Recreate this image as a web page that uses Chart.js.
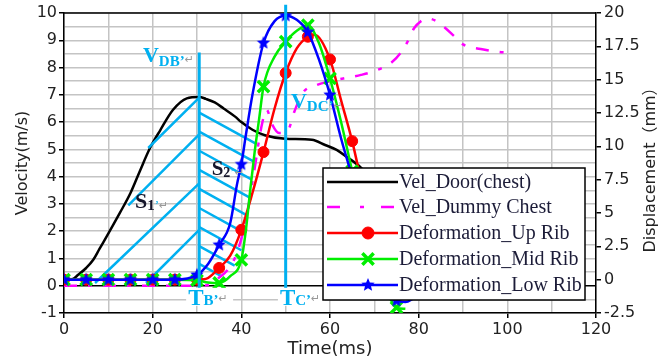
<!DOCTYPE html>
<html>
<head>
<meta charset="utf-8">
<script src="https://cdn.jsdelivr.net/npm/chart.js@4"></script>
<style>
html,body{margin:0;padding:0;background:#fff;}
#c{display:block;}
</style>
</head>
<body>
<canvas id="c" width="660" height="360"></canvas>
<script>
// ---------------- data ----------------
const xTickLabels = [0, 20, 40, 60, 80, 100, 120];
const yTickLabels = [-1, 0, 1, 2, 3, 4, 5, 6, 7, 8, 9, 10];
const y2TickLabels = [-2.5, 0, 2.5, 5, 7.5, 10, 12.5, 15, 17.5, 20];
const markerTimes = [0, 5, 10, 15, 20, 25, 30, 35, 40, 45, 50, 55, 60, 65, 70, 75];

const seriesNames = ['Vel_Door(chest)', 'Vel_Dummy Chest', 'Deformation_Up Rib', 'Deformation_Mid Rib', 'Deformation_Low Rib'];

// Vel_Door(chest)  (m/s)
const timeDoor = [0, 2, 3.2, 5, 6.6, 8, 9.6, 11, 12.6, 15, 17.1, 19.4, 21.7, 24.6, 27.7, 30.5, 32, 34, 36, 38.6, 40, 42.5, 45.3, 49.9, 55.9, 58.9, 61.5, 63.8, 66.8, 70];
const velDoor  = [0.22, 0.25, 0.4, 0.65, 0.95, 1.35, 1.8, 2.2, 2.67, 3.4, 4.2, 5.05, 5.7, 6.45, 6.87, 6.92, 6.85, 6.72, 6.5, 6.2, 6.0, 5.72, 5.52, 5.39, 5.35, 5.16, 4.98, 4.72, 4.36, 3.8];

// Vel_Dummy Chest  (m/s)
const timeDummy = [0, 10, 20, 30, 33, 35, 37, 39, 41, 43, 44.5, 45.7, 47, 48.5, 50.5, 52, 54, 57, 60, 63, 67, 70.5, 74, 76, 77.5, 79, 80.5, 82, 84, 86, 88, 90, 94, 98, 100];
const velDummy  = [0, 0, 0, 0, 0.05, 0.3, 0.6, 1.2, 2.4, 4.3, 5.8, 6.45, 5.9, 5.6, 5.7, 6.4, 7.1, 7.36, 7.5, 7.6, 7.73, 7.9, 8.2, 8.55, 8.95, 9.45, 9.7, 9.8, 9.7, 9.45, 9.15, 8.85, 8.68, 8.57, 8.55];

// Deformation_Up Rib  (mm)
const timeUp = [0, 5, 10, 15, 20, 25, 30, 32, 35, 37.5, 40, 42.5, 45, 47.5, 50, 52.5, 55, 56.5, 60, 62.5, 65, 67.5, 70, 72.5, 75];
const defUp  = [0, 0, 0, 0, 0, 0, 0, 0.06, 0.88, 1.8, 3.74, 6.5, 9.57, 12.84, 15.5, 17.34, 18.22, 18.36, 16.52, 13.45, 10.39, 6.7, 3.23, 0.57, -1.07];

// Deformation_Mid Rib  (mm)
const timeMid = [0, 5, 10, 15, 20, 25, 30, 32.5, 35, 37.5, 40, 41, 42, 43, 44, 45, 47.5, 50, 52.5, 55, 57.5, 60, 62.5, 65, 67.5, 70, 72.5, 75, 77];
const defMid  = [0, 0, 0, 0, 0, 0, -0.05, -0.21, -0.25, 0.26, 1.49, 3.64, 6.7, 9.57, 12.02, 14.48, 16.73, 17.85, 18.67, 19.08, 17.75, 15.09, 11.82, 8.14, 4.66, 1.59, -0.66, -2.09, -2.19];

// Deformation_Low Rib  (mm)
const timeLow = [0, 5, 10, 15, 20, 25, 30, 32.5, 35, 37.5, 39, 40, 41, 42.5, 45, 47.5, 50, 52.5, 55, 57.5, 60, 62.5, 65, 67.5, 70, 72.5, 75, 77, 79];
const defLow  = [0, 0, 0, 0, 0, 0, 0.36, 1.18, 2.61, 4.25, 7.11, 8.65, 10.8, 13.86, 17.75, 19.39, 19.8, 19.49, 18.57, 16.52, 13.86, 10.59, 7.73, 4.86, 2.0, -0.45, -1.58, -1.68, -1.38];

// cyan guide lines (time, velocity) : [t1, v1, t2, v2]
const guideVerticals = [[30.5, 8.55, 30.5, -0.1], [50, 10.3, 50, -0.1]];
const hatchS1 = [[19, 5.05, 30.5, 6.9], [14.5, 2.95, 30.5, 5.55], [7, 0.1, 30.5, 3.75], [18.5, 0.1, 30.5, 2.05]];
const hatchS2 = [[30.5, 6.35, 43.27, 5.21], [30.5, 5.65, 42.75, 4.56], [30.5, 4.95, 42.28, 3.9], [30.5, 4.25, 41.82, 3.24],
                 [30.5, 3.55, 41.38, 2.57], [30.5, 2.85, 40.9, 1.92], [30.5, 2.15, 40.0, 1.3], [30.5, 1.45, 38.5, 0.74], [30.5, 0.8, 35.5, 0.35]];

// ---------------- helpers ----------------
const pts = (xs, ys) => xs.map((x, i) => ({x: x, y: ys[i]}));
const segs = list => {
  const out = [];
  list.forEach(s => { out.push({x: s[0], y: s[1]}); out.push({x: s[2], y: s[3]}); out.push({x: s[2], y: null}); });
  return out;
};
function makeStar(color, R) {
  const c = document.createElement('canvas');
  const s = Math.ceil(R * 2 + 2);
  c.width = s; c.height = s;
  const g = c.getContext('2d');
  g.fillStyle = color; g.beginPath();
  for (let i = 0; i < 10; i++) {
    const r = i % 2 ? R * 0.45 : R;
    const a = -Math.PI / 2 + i * Math.PI / 5;
    g.lineTo(s / 2 + r * Math.cos(a), s / 2 + r * Math.sin(a));
  }
  g.closePath(); g.fill();
  return c;
}
const CYAN = '#00B0F0';
const RED = '#ff0000', GREEN = '#00ee00', BLUE = '#0000ff', MAG = '#ff00ff';
const starImg = makeStar(BLUE, 7);
const isMarker = c => c.type === 'data' && c.raw && markerTimes.includes(c.raw.x);

Chart.defaults.font.family = '"DejaVu Sans", sans-serif';
Chart.defaults.color = '#222';

// ---------------- overlay plugin: frame, labels, legend, right title ----------------
function runText(ctx, x, y, parts) {
  ctx.textAlign = 'left'; ctx.textBaseline = 'alphabetic';
  for (const p of parts) {
    ctx.font = p.f; ctx.fillStyle = p.c;
    ctx.fillText(p.t, x, y + (p.dy || 0));
    x += ctx.measureText(p.t).width + (p.gap || 0);
  }
}
const overlay = {
  id: 'overlay',
  beforeDatasetsDraw(chart) {
    const {ctx, chartArea: a} = chart;
    ctx.save();
    ctx.strokeStyle = '#000'; ctx.lineWidth = 1.5;
    ctx.beginPath(); ctx.moveTo(a.left, a.top); ctx.lineTo(a.right, a.top); ctx.stroke();
    ctx.restore();
  },
  afterDatasetsDraw(chart) {
    const {ctx} = chart;
    const sx = chart.scales.x, sy = chart.scales.y;
    const X = t => sx.getPixelForValue(t), Y = v => sy.getPixelForValue(v);
    const ser = 'bold 22px "Liberation Serif"', sub = 'bold 15px "Liberation Serif"';
    const arr = '11px "DejaVu Sans"', GR = '#999';
    ctx.save();
    // V_DB'
    runText(ctx, X(17.8), Y(8.2), [{t: 'V', f: ser, c: CYAN}, {t: 'DB’', f: sub, c: CYAN, dy: 4}, {t: '↵', f: arr, c: GR, dy: 1}]);
    // V_DC'
    runText(ctx, X(51.2), Y(6.5), [{t: 'V', f: ser, c: CYAN}, {t: 'DC’', f: sub, c: CYAN, dy: 3}, {t: '↵', f: arr, c: GR, dy: 1}]);
    // S1'
    runText(ctx, X(16), Y(2.85), [{t: 'S', f: 'bold 22px "Liberation Serif"', c: '#15152a'}, {t: '1', f: 'bold 15px "Liberation Serif"', c: '#15152a', dy: 2}, {t: '’', f: '13px "Liberation Serif"', c: CYAN, dy: 1}, {t: '↵', f: arr, c: GR, dy: 1}]);
    // S2'
    runText(ctx, X(33.3), Y(4.07), [{t: 'S', f: 'bold 21px "Liberation Serif"', c: '#15152a'}, {t: '2', f: 'bold 14px "Liberation Serif"', c: '#15152a', dy: 2}, {t: '’', f: '13px "Liberation Serif"', c: CYAN, dy: 1}, {t: '↵', f: arr, c: GR, dy: 1}]);
    // T_B' and T_C' with white boxes
    const tfont = 'bold 23px "Liberation Serif"';
    [[28, 'B’'], [48.7, 'C’']].forEach(([t, s]) => {
      const x = X(t), y = Y(-0.7);
      ctx.fillStyle = '#fff'; ctx.fillRect(x - 2, y - 17, 47, 18);
      runText(ctx, x, y, [{t: 'T', f: tfont, c: CYAN}, {t: s, f: sub, c: CYAN}, {t: '↵', f: arr, c: GR, dy: -3, gap: 0}]);
    });

    // legend
    const L = 323, T = 168, W = 262, H = 132;
    ctx.fillStyle = '#fff'; ctx.fillRect(L, T, W, H);
    ctx.strokeStyle = '#000'; ctx.lineWidth = 1.5; ctx.strokeRect(L, T, W, H);
    const rows = [182, 207, 233, 259, 285];
    const ds = [chart.data.datasets[6], chart.data.datasets[4], chart.data.datasets[3], chart.data.datasets[2], chart.data.datasets[1]];
    ds.forEach((d, i) => {
      const y = rows[i];
      ctx.save();
      ctx.strokeStyle = d.borderColor; ctx.lineWidth = 2.5;
      ctx.setLineDash(i === 1 ? [13, 20, 4, 17] : []);
      ctx.beginPath(); ctx.moveTo(L + 4, y); ctx.lineTo(L + 75, y); ctx.stroke();
      ctx.restore();
      if (i >= 2) {
        ctx.save();
        ctx.fillStyle = d.pointBackgroundColor; ctx.strokeStyle = d.pointBorderColor;
        ctx.lineWidth = d.legendBorder;
        Chart.helpers.drawPoint(ctx, {pointStyle: d.pointStyle, radius: d.legendRadius, borderWidth: d.legendBorder, rotation: 0}, L + 45, y);
        ctx.restore();
      }
      ctx.font = '20px "Liberation Serif"'; ctx.fillStyle = '#1c1c38';
      ctx.textAlign = 'left'; ctx.textBaseline = 'middle';
      ctx.fillText(seriesNames[i], L + 76, y + 1);
    });

    // right axis title (reads bottom to top)
    ctx.translate(651, 166);
    ctx.rotate(-Math.PI / 2);
    ctx.font = '16px "DejaVu Sans", "Noto Sans CJK SC"';
    ctx.fillStyle = '#222'; ctx.textAlign = 'center'; ctx.textBaseline = 'middle';
    ctx.fillText('Displacement（mm）', 0, 0);
    ctx.restore();
  }
};

// ---------------- chart ----------------
new Chart(document.getElementById('c'), {
  type: 'line',
  data: {
    datasets: [
      { // 0 guide verticals
        data: segs(guideVerticals), yAxisID: 'y', borderColor: CYAN, borderWidth: 3,
        pointRadius: 0, tension: 0, spanGaps: false, clip: false, order: 0
      },
      { // 1 Low rib
        label: seriesNames[4], data: pts(timeLow, defLow), yAxisID: 'y2',
        borderColor: BLUE, borderWidth: 2.5, cubicInterpolationMode: 'monotone',
        pointStyle: starImg, pointRadius: c => isMarker(c) ? 6 : 0,
        pointBackgroundColor: BLUE, pointBorderColor: BLUE, legendRadius: 6, legendBorder: 1, order: 1
      },
      { // 2 Mid rib
        label: seriesNames[3], data: pts(timeMid, defMid), yAxisID: 'y2',
        borderColor: GREEN, borderWidth: 2.5, cubicInterpolationMode: 'monotone',
        pointStyle: 'crossRot', pointRadius: c => isMarker(c) ? 8 : 0, pointBorderWidth: 3.5,
        pointBackgroundColor: GREEN, pointBorderColor: GREEN, legendRadius: 8, legendBorder: 3.5, order: 2
      },
      { // 3 Up rib
        label: seriesNames[2], data: pts(timeUp, defUp), yAxisID: 'y2',
        borderColor: RED, borderWidth: 2.5, cubicInterpolationMode: 'monotone',
        pointStyle: 'circle', pointRadius: c => isMarker(c) ? 5.5 : 0, pointBorderWidth: 1,
        pointBackgroundColor: RED, pointBorderColor: RED, legendRadius: 6, legendBorder: 1, order: 3
      },
      { // 4 dummy chest velocity
        label: seriesNames[1], data: pts(timeDummy, velDummy), yAxisID: 'y',
        borderColor: MAG, borderWidth: 2.5, borderDash: [13, 11, 4, 11], cubicInterpolationMode: 'monotone',
        pointRadius: 0, order: 4
      },
      { // 5 hatch lines
        data: segs(hatchS1.concat(hatchS2)), yAxisID: 'y', borderColor: CYAN, borderWidth: 2.5,
        pointRadius: 0, tension: 0, spanGaps: false, order: 5
      },
      { // 6 door velocity
        label: seriesNames[0], data: pts(timeDoor, velDoor), yAxisID: 'y',
        borderColor: '#000', borderWidth: 2.5, cubicInterpolationMode: 'monotone',
        pointRadius: 0, order: 6
      }
    ]
  },
  options: {
    responsive: false,
    animation: false,
    events: [],
    layout: {padding: {top: 13, left: 0, right: 0, bottom: 0}},
    plugins: {legend: {display: false}, tooltip: {enabled: false}},
    scales: {
      x: {
        type: 'linear', min: 0, max: 120,
        afterFit: s => { s.height = 47; },
        ticks: {stepSize: 10, autoSkip: false, maxRotation: 0, padding: 2, font: {size: 16}, color: '#222',
          callback: v => xTickLabels.includes(v) ? String(v) : ''},
        grid: {color: '#c4c4c4', lineWidth: 1.5, tickLength: 5,
          tickColor: c => xTickLabels.includes(c.tick.value) ? '#000' : 'rgba(0,0,0,0)'},
        border: {color: '#000', width: 1.5},
        title: {display: true, text: 'Time(ms)', font: {size: 18}, color: '#222', padding: {top: 1, bottom: 0}}
      },
      y: {
        type: 'linear', position: 'left', min: -1, max: 10,
        afterFit: s => { s.width = 64; },
        ticks: {stepSize: 0.5, autoSkip: false, padding: 2, font: {size: 16}, color: '#222',
          callback: v => yTickLabels.includes(v) ? String(v) : ''},
        grid: {
          color: c => c.tick && c.tick.value === 0 ? '#000' : '#c4c4c4',
          lineWidth: 1.5, tickLength: 5,
          tickColor: c => yTickLabels.includes(c.tick.value) ? '#000' : 'rgba(0,0,0,0)'
        },
        border: {color: '#000', width: 1.5},
        title: {display: true, text: 'Velocity(m/s)', font: {size: 16}, color: '#222', padding: {top: 13, bottom: 0}}
      },
      y2: {
        type: 'linear', position: 'right', min: -2.5, max: 20,
        afterFit: s => { s.width = 64; },
        ticks: {stepSize: 2.5, autoSkip: false, padding: 3, font: {size: 16}, color: '#222',
          callback: v => y2TickLabels.includes(v) ? String(v) : ''},
        grid: {drawOnChartArea: false, tickLength: 5, tickColor: '#000', lineWidth: 1.5},
        border: {color: '#000', width: 1.5}
      }
    }
  },
  plugins: [overlay]
});
</script>
</body>
</html>
